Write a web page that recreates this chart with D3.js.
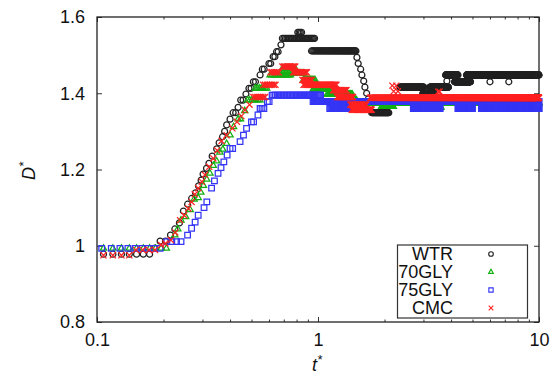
<!DOCTYPE html>
<html>
<head>
<meta charset="utf-8">
<script src="https://cdn.jsdelivr.net/npm/d3@7"></script>
<style>
  html, body { margin: 0; padding: 0; background: #fff; }
  svg { display: block; font-family: "Liberation Sans", Arial, sans-serif; }
</style>
</head>
<body>
<svg id="chart" width="554" height="374"></svg>
<script>
// every run is [t* start, t* end, D*]: one marker per video frame while D* holds
const frameStep = 0.011;

const wtrRuns = [
  [0.107, 0.174, 0.978], [0.183, 0.183, 0.994], [0.193, 0.204, 1.012],
  [0.215, 0.215, 1.028], [0.225, 0.225, 1.044], [0.236, 0.236, 1.06],
  [0.246, 0.246, 1.091], [0.257, 0.257, 1.109], [0.268, 0.268, 1.124],
  [0.279, 0.279, 1.139], [0.288, 0.288, 1.157], [0.296, 0.296, 1.172],
  [0.302, 0.302, 1.188], [0.313, 0.313, 1.203], [0.321, 0.321, 1.216],
  [0.332, 0.332, 1.235], [0.348, 0.348, 1.254], [0.357, 0.357, 1.27],
  [0.37, 0.37, 1.286], [0.378, 0.378, 1.3], [0.386, 0.386, 1.317],
  [0.4, 0.4, 1.332], [0.413, 0.425, 1.349], [0.435, 0.435, 1.363],
  [0.447, 0.458, 1.382], [0.472, 0.472, 1.398], [0.487, 0.498, 1.413],
  [0.51, 0.528, 1.43], [0.547, 0.547, 1.448], [0.56, 0.571, 1.463],
  [0.6, 0.612, 1.478], [0.627, 0.638, 1.496], [0.649, 0.66, 1.509],
  [0.68, 0.68, 1.527], [0.69, 0.97, 1.544], [0.81, 0.85, 1.56],
  [0.935, 1.49, 1.511], [1.5, 1.5, 1.494], [1.52, 1.52, 1.478],
  [1.56, 1.56, 1.463], [1.58, 1.58, 1.448], [1.61, 1.61, 1.432],
  [1.63, 1.63, 1.416], [1.66, 1.66, 1.4], [1.69, 1.69, 1.385],
  [1.72, 1.72, 1.365], [1.75, 2.1, 1.349], [2.12, 2.34, 1.385],
  [2.35, 3.02, 1.416], [2.98, 3.35, 1.4], [3.21, 3.9, 1.416],
  [3.83, 3.83, 1.432], [3.78, 4.3, 1.448], [4.15, 4.9, 1.43],
  [4.7, 10, 1.448], [6.0, 6.0, 1.43], [7.3, 7.3, 1.43]
];

const gly70Runs = [
  [0.107, 0.216, 0.993], [0.225, 0.225, 1.028], [0.232, 0.232, 1.044],
  [0.24, 0.24, 1.067], [0.252, 0.252, 1.076], [0.264, 0.264, 1.094],
  [0.275, 0.275, 1.122], [0.287, 0.287, 1.126], [0.295, 0.295, 1.14],
  [0.303, 0.303, 1.158], [0.314, 0.314, 1.174], [0.3245, 0.3245, 1.19],
  [0.336, 0.336, 1.21], [0.348, 0.348, 1.222], [0.36, 0.36, 1.245],
  [0.371, 0.371, 1.253], [0.386, 0.386, 1.268], [0.4, 0.4, 1.29],
  [0.415, 0.415, 1.312], [0.435, 0.456, 1.332], [0.466, 0.475, 1.354],
  [0.48, 0.547, 1.382], [0.52, 0.595, 1.413], [0.607, 0.75, 1.448],
  [0.69, 0.79, 1.465], [0.77, 0.86, 1.452], [0.86, 0.97, 1.435],
  [0.95, 1.22, 1.41], [1.1, 1.43, 1.397], [1.33, 1.5, 1.382],
  [1.42, 1.6, 1.368], [1.6, 10, 1.375], [1.94, 2.2, 1.365], [3.4, 3.6, 1.363]
];

const gly75Runs = [
  [0.105, 0.2, 0.993], [0.207, 0.245, 1.011], [0.257, 0.257, 1.028],
  [0.268, 0.268, 1.046], [0.278, 0.278, 1.062], [0.287, 0.295, 1.08],
  [0.305, 0.305, 1.1], [0.314, 0.32, 1.115], [0.33, 0.33, 1.151],
  [0.34, 0.34, 1.17], [0.353, 0.353, 1.19], [0.364, 0.364, 1.205],
  [0.375, 0.375, 1.22], [0.388, 0.388, 1.238], [0.4, 0.42, 1.255],
  [0.444, 0.444, 1.273], [0.46, 0.46, 1.29], [0.475, 0.475, 1.308],
  [0.5, 0.52, 1.325], [0.535, 0.535, 1.343], [0.547, 0.575, 1.36],
  [0.59, 0.605, 1.378], [0.62, 1.03, 1.395], [0.95, 10, 1.378],
  [1.13, 1.42, 1.36], [2.7, 3.57, 1.36], [4.3, 5.0, 1.36], [5.5, 10, 1.36]
];

const cmcRuns = [
  [0.107, 0.14, 0.975], [0.15, 0.185, 0.989], [0.195, 0.195, 1.002],
  [0.204, 0.204, 1.006], [0.216, 0.216, 1.015], [0.226, 0.226, 1.035],
  [0.2375, 0.2375, 1.067], [0.248, 0.248, 1.08], [0.259, 0.259, 1.098],
  [0.268, 0.268, 1.115], [0.277, 0.277, 1.135], [0.287, 0.287, 1.151],
  [0.298, 0.298, 1.168], [0.308, 0.308, 1.186], [0.322, 0.322, 1.207],
  [0.336, 0.336, 1.229], [0.35, 0.35, 1.25], [0.366, 0.366, 1.275],
  [0.386, 0.386, 1.29], [0.41, 0.41, 1.308], [0.43, 0.43, 1.325],
  [0.45, 0.45, 1.34], [0.467, 0.467, 1.356], [0.49, 0.49, 1.37],
  [0.51, 0.585, 1.39], [0.565, 0.65, 1.422], [0.61, 0.67, 1.455],
  [0.69, 0.79, 1.47], [0.77, 0.9, 1.455], [0.85, 0.94, 1.435],
  [0.86, 1.22, 1.422], [1.17, 1.35, 1.408], [1.22, 1.45, 1.39],
  [1.4, 1.66, 1.37], [1.42, 1.75, 1.357], [1.72, 10, 1.388],
  [2.17, 2.17, 1.42], [2.2, 2.2, 1.405], [2.26, 2.26, 1.42],
  [2.3, 2.3, 1.405], [3.5, 3.5, 1.404], [3.55, 3.55, 1.404]
];

const seriesNames = ["WTR", "70GLY", "75GLY", "CMC"];
const xMajorTicks = [0.1, 1, 10];
const xMinorTicks = [0.2, 0.3, 0.4, 0.5, 0.6, 0.7, 0.8, 0.9, 2, 3, 4, 5, 6, 7, 8, 9];
const yTicks = [0.8, 1.0, 1.2, 1.4, 1.6];

const svg = d3.select("#chart");
const plot = { left: 97, right: 539, top: 17, bottom: 322 };

const x = d3.scaleLog().domain([0.1, 10]).range([plot.left, plot.right]);
const y = d3.scaleLinear().domain([0.8, 1.6]).range([plot.bottom, plot.top]);

function framesOf(runs) {
  const pts = [];
  runs.forEach(([t0, t1, d]) => {
    for (let t = t0; t <= t1 + 1e-9; t += frameStep) pts.push({ t, d });
  });
  return pts;
}

const series = [
  { name: seriesNames[0], runs: wtrRuns, color: "#222", symbol: d3.symbolCircle, size: 28 },
  { name: seriesNames[1], runs: gly70Runs, color: "#12b012", symbol: d3.symbolTriangle2, size: 28 },
  { name: seriesNames[2], runs: gly75Runs, color: "#3535f5", symbol: d3.symbolSquare2, size: 40 },
  { name: seriesNames[3], runs: cmcRuns, color: "#f22", symbol: d3.symbolTimes, size: 26 }
];

// axes: ticks point inward and are mirrored on top/right
function tickAxis(axisFn, scale, values, len, labels) {
  return axisFn(scale)
    .tickValues(values)
    .tickSizeInner(-len)
    .tickSizeOuter(0)
    .tickFormat(labels ? (d) => d3.format("~g")(d) : "");
}

const axes = svg.append("g").attr("class", "axes");

axes.append("g")
  .attr("transform", `translate(0,${plot.bottom})`)
  .call(tickAxis(d3.axisBottom, x, xMinorTicks, 2.5, false));
axes.append("g")
  .attr("transform", `translate(0,${plot.bottom})`)
  .call(tickAxis(d3.axisBottom, x, xMajorTicks, 5, true))
  .call((g) => g.selectAll("text").attr("dy", "1.05em").attr("y", 5));
axes.append("g")
  .attr("transform", `translate(0,${plot.top})`)
  .call(tickAxis(d3.axisTop, x, xMinorTicks, 2.5, false));
axes.append("g")
  .attr("transform", `translate(0,${plot.top})`)
  .call(tickAxis(d3.axisTop, x, xMajorTicks, 5, false));
axes.append("g")
  .attr("transform", `translate(${plot.left},0)`)
  .call(tickAxis(d3.axisLeft, y, yTicks, 5, true))
  .call((g) => g.selectAll("text").attr("x", -12));
axes.append("g")
  .attr("transform", `translate(${plot.right},0)`)
  .call(tickAxis(d3.axisRight, y, yTicks, 5, false));

axes.selectAll(".domain").remove();
axes.selectAll("line").attr("stroke", "#333");
axes.selectAll("text")
  .attr("font-family", "Liberation Sans, Arial, sans-serif")
  .attr("font-size", 18)
  .attr("fill", "#111");

axes.append("rect")
  .attr("x", plot.left)
  .attr("y", plot.top)
  .attr("width", plot.right - plot.left)
  .attr("height", plot.bottom - plot.top)
  .attr("fill", "none")
  .attr("stroke", "#222")
  .attr("stroke-width", 1.3);

// data markers
series.forEach((s) => {
  const sym = d3.symbol().type(s.symbol).size(s.size)();
  svg.append("g")
    .selectAll("path")
    .data(framesOf(s.runs))
    .enter()
    .append("path")
    .attr("d", sym)
    .attr("transform", (d) => `translate(${x(d.t)},${y(d.d)})`)
    .attr("fill", "none")
    .attr("stroke", s.color)
    .attr("stroke-width", 1.25);
});

// legend
const legend = svg.append("g");
legend.append("rect")
  .attr("x", 397.5)
  .attr("y", 245)
  .attr("width", 130)
  .attr("height", 73)
  .attr("fill", "#fff")
  .attr("stroke", "#333")
  .attr("stroke-width", 1.2);

const rows = legend.selectAll("g.row")
  .data(series)
  .enter()
  .append("g")
  .attr("class", "row")
  .attr("transform", (d, i) => `translate(0,${254 + i * 18})`);

rows.append("text")
  .attr("x", 453)
  .attr("dy", "0.36em")
  .attr("text-anchor", "end")
  .attr("font-size", 18)
  .attr("fill", "#111")
  .text((d) => d.name);

rows.append("path")
  .attr("d", (d) => d3.symbol().type(d.symbol).size(d.size * 0.6)())
  .attr("transform", "translate(491,0)")
  .attr("fill", "none")
  .attr("stroke", (d) => d.color)
  .attr("stroke-width", 1.1);

// axis titles
const yTitle = svg.append("text")
  .attr("transform", "translate(35,171) rotate(-90)")
  .attr("text-anchor", "middle")
  .attr("font-size", 18)
  .attr("font-style", "italic")
  .attr("fill", "#111");
yTitle.append("tspan").text("D");
yTitle.append("tspan").attr("dy", -7).attr("font-size", 13).text("*");

const xTitle = svg.append("text")
  .attr("x", 317)
  .attr("y", 371)
  .attr("text-anchor", "middle")
  .attr("font-size", 18)
  .attr("font-style", "italic")
  .attr("fill", "#111");
xTitle.append("tspan").text("t");
xTitle.append("tspan").attr("dy", -7).attr("font-size", 13).text("*");
</script>
</body>
</html>
